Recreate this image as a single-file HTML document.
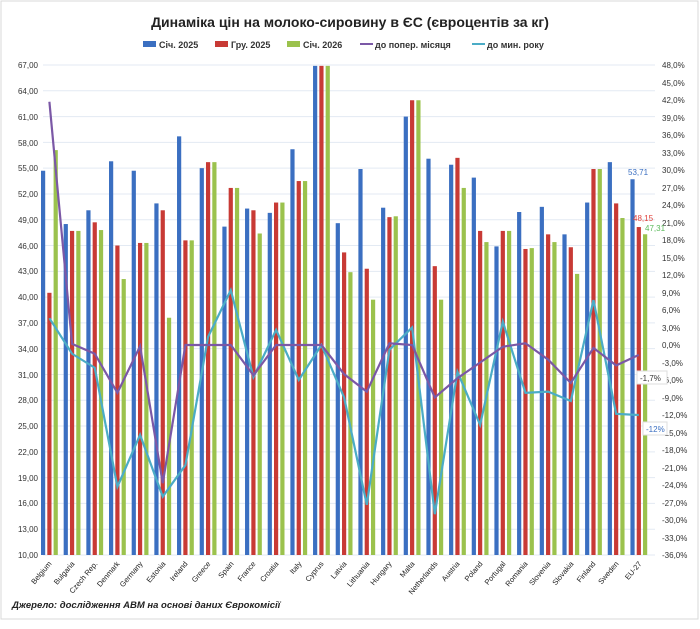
<!DOCTYPE html>
<html><head><meta charset="utf-8"><style>
body{margin:0;background:#fff;}
svg{display:block;font-family:"Liberation Sans","DejaVu Sans",sans-serif;}
</style></head><body>
<svg id="c" width="700" height="629" viewBox="0 0 700 629" xmlns="http://www.w3.org/2000/svg">
<rect x="1" y="1" width="697" height="618" fill="#fff" stroke="#d9d9d9"/>
<text x="350" y="27" font-size="14" font-weight="bold" text-anchor="middle" fill="#222">Динаміка цін на молоко-сировину в ЄС (євроцентів за кг)</text>
<g font-size="9" font-weight="bold" fill="#333">
<rect x="143" y="41" width="13" height="6" fill="#3b6fc1"/><text x="159" y="48">Січ. 2025</text>
<rect x="215" y="41" width="13" height="6" fill="#c83a35"/><text x="231" y="48">Гру. 2025</text>
<rect x="287" y="41" width="13" height="6" fill="#9bc24d"/><text x="303" y="48">Січ. 2026</text>
<line x1="360" y1="44" x2="373" y2="44" stroke="#7b58a6" stroke-width="2"/><text x="375" y="48">до попер. місяця</text>
<line x1="472" y1="44" x2="485" y2="44" stroke="#4bacc6" stroke-width="2"/><text x="487" y="48">до мин. року</text>
</g>
<g id="grid"></g>
<g id="bars"></g>
<g id="lines"></g>
<g font-size="8" fill="#333" text-anchor="end">
<text x="38" y="68">67,00</text><text x="38" y="94">64,00</text><text x="38" y="120">61,00</text><text x="38" y="146">58,00</text><text x="38" y="171">55,00</text><text x="38" y="197">52,00</text><text x="38" y="223">49,00</text><text x="38" y="249">46,00</text><text x="38" y="274">43,00</text><text x="38" y="300">40,00</text><text x="38" y="326">37,00</text><text x="38" y="352">34,00</text><text x="38" y="378">31,00</text><text x="38" y="403">28,00</text><text x="38" y="429">25,00</text><text x="38" y="455">22,00</text><text x="38" y="481">19,00</text><text x="38" y="506">16,00</text><text x="38" y="532">13,00</text><text x="38" y="558">10,00</text>
</g>
<g font-size="8" fill="#333" text-anchor="start">
<text x="662" y="68">48,0%</text><text x="662" y="86">45,0%</text><text x="662" y="103">42,0%</text><text x="662" y="121">39,0%</text><text x="662" y="138">36,0%</text><text x="662" y="156">33,0%</text><text x="662" y="173">30,0%</text><text x="662" y="191">27,0%</text><text x="662" y="208">24,0%</text><text x="662" y="226">21,0%</text><text x="662" y="243">18,0%</text><text x="662" y="261">15,0%</text><text x="662" y="278">12,0%</text><text x="662" y="296">9,0%</text><text x="662" y="313">6,0%</text><text x="662" y="331">3,0%</text><text x="662" y="348">0,0%</text><text x="662" y="366">-3,0%</text><text x="662" y="383">-6,0%</text><text x="662" y="401">-9,0%</text><text x="662" y="418">-12,0%</text><text x="662" y="436">-15,0%</text><text x="662" y="453">-18,0%</text><text x="662" y="471">-21,0%</text><text x="662" y="488">-24,0%</text><text x="662" y="506">-27,0%</text><text x="662" y="523">-30,0%</text><text x="662" y="541">-33,0%</text><text x="662" y="558">-36,0%</text>
</g>
<g font-size="7.5" fill="#222" text-anchor="end" id="xl">
<text transform="translate(52,564) rotate(-50)">Belgium</text>
<text transform="translate(75,564) rotate(-50)">Bulgaria</text>
<text transform="translate(98,564) rotate(-50)">Czech Rep.</text>
<text transform="translate(120,564) rotate(-50)">Denmark</text>
<text transform="translate(143,564) rotate(-50)">Germany</text>
<text transform="translate(166,564) rotate(-50)">Estonia</text>
<text transform="translate(188,564) rotate(-50)">Ireland</text>
<text transform="translate(211,564) rotate(-50)">Greece</text>
<text transform="translate(234,564) rotate(-50)">Spain</text>
<text transform="translate(256,564) rotate(-50)">France</text>
<text transform="translate(279,564) rotate(-50)">Croatia</text>
<text transform="translate(302,564) rotate(-50)">Italy</text>
<text transform="translate(324,564) rotate(-50)">Cyprus</text>
<text transform="translate(347,564) rotate(-50)">Latvia</text>
<text transform="translate(370,564) rotate(-50)">Lithuania</text>
<text transform="translate(392,564) rotate(-50)">Hungary</text>
<text transform="translate(415,564) rotate(-50)">Malta</text>
<text transform="translate(438,564) rotate(-50)">Netherlands</text>
<text transform="translate(460,564) rotate(-50)">Austria</text>
<text transform="translate(483,564) rotate(-50)">Poland</text>
<text transform="translate(506,564) rotate(-50)">Portugal</text>
<text transform="translate(528,564) rotate(-50)">Romania</text>
<text transform="translate(551,564) rotate(-50)">Slovenia</text>
<text transform="translate(574,564) rotate(-50)">Slovakia</text>
<text transform="translate(596,564) rotate(-50)">Finland</text>
<text transform="translate(619,564) rotate(-50)">Sweden</text>
<text transform="translate(642,564) rotate(-50)">EU-27</text>
</g>
<text x="628" y="175" font-size="8" fill="#3b6fc1">53,71</text>
<text x="633" y="221" font-size="8" fill="#e0403a">48,15</text>
<text x="645" y="231" font-size="8" fill="#5cba5c">47,31</text>
<rect x="637" y="371" width="30" height="13" fill="#fff" stroke="#ddd"/>
<text x="640" y="381" font-size="8" fill="#333">-1,7%</text>
<rect x="643" y="422" width="24" height="13" fill="#fff" stroke="#ddd"/>
<text x="646" y="432" font-size="8" fill="#3b6fc1">-12%</text>
<text x="12" y="608" font-size="9.5" font-weight="bold" font-style="italic" fill="#222">Джерело: дослідження АВМ на основі даних Єврокомісії</text>
</svg>
<script>
const NS="http://www.w3.org/2000/svg";
function el(p,t,a){const e=document.createElementNS(NS,t);for(const k in a)e.setAttribute(k,a[k]);document.getElementById(p).appendChild(e);return e;}
for(let k=0;k<=19;k++){const y=65+k*490/19;el("grid","line",{x1:43,x2:655,y1:y,y2:y,stroke:"#e3eaf3","stroke-width":1});}
const B=[54.7,48.5,50.1,55.8,54.7,50.9,58.7,55.0,48.2,50.3,49.8,57.2,66.9,48.6,54.9,50.4,61.0,56.1,55.4,53.9,45.9,49.9,50.5,47.3,51.0,55.7,53.71];
const R=[40.5,47.7,48.7,46.0,46.3,50.1,46.6,55.7,52.7,50.1,51.0,53.5,66.9,45.2,43.3,49.3,62.9,43.6,56.2,47.7,47.7,45.6,47.3,45.8,54.9,50.9,48.15];
const G=[57.1,47.7,47.8,42.1,46.3,37.6,46.6,55.7,52.7,47.4,51.0,53.5,66.9,42.9,39.7,49.4,62.9,39.7,52.7,46.4,47.7,45.7,46.4,42.7,54.9,49.2,47.31];
const P=[41.7,0.2,-1.5,-8.2,-0.2,-23.7,0,0,0,-5.2,0,0,0,-5,-8,0.3,0,-9,-5.7,-3,-0.3,0.3,-2.5,-6.5,-0.5,-3.5,-1.7];
const C=[4.6,-1.5,-3.9,-24.3,-15.4,-26,-20.6,1.4,9.4,-5.5,2.6,-6,0,-9,-27.4,-0.8,3,-29,-4.6,-13.7,4,-8.2,-8,-9.6,7.7,-11.8,-12];
const vy=v=>65+(67-v)*490/57, py=p=>65+(48-p)*490/84;
const cols=["#3b6fc1","#c83a35","#9bc24d"];
let pp=[],cp=[];
for(let i=0;i<27;i++){const x=41+i*22.67;
[B,R,G].forEach((a,j)=>{const y=vy(a[i]);el("bars","rect",{x:x+j*6.3,y:y,width:4.2,height:555-y,fill:cols[j]});});
pp.push((x+8.4)+","+py(P[i]));cp.push((x+8.4)+","+py(C[i]));}
el("lines","polyline",{points:cp.join(" "),fill:"none",stroke:"#4bacc6","stroke-width":2.2});
el("lines","polyline",{points:pp.join(" "),fill:"none",stroke:"#7b58a6","stroke-width":2.2});
</script>
</body></html>
